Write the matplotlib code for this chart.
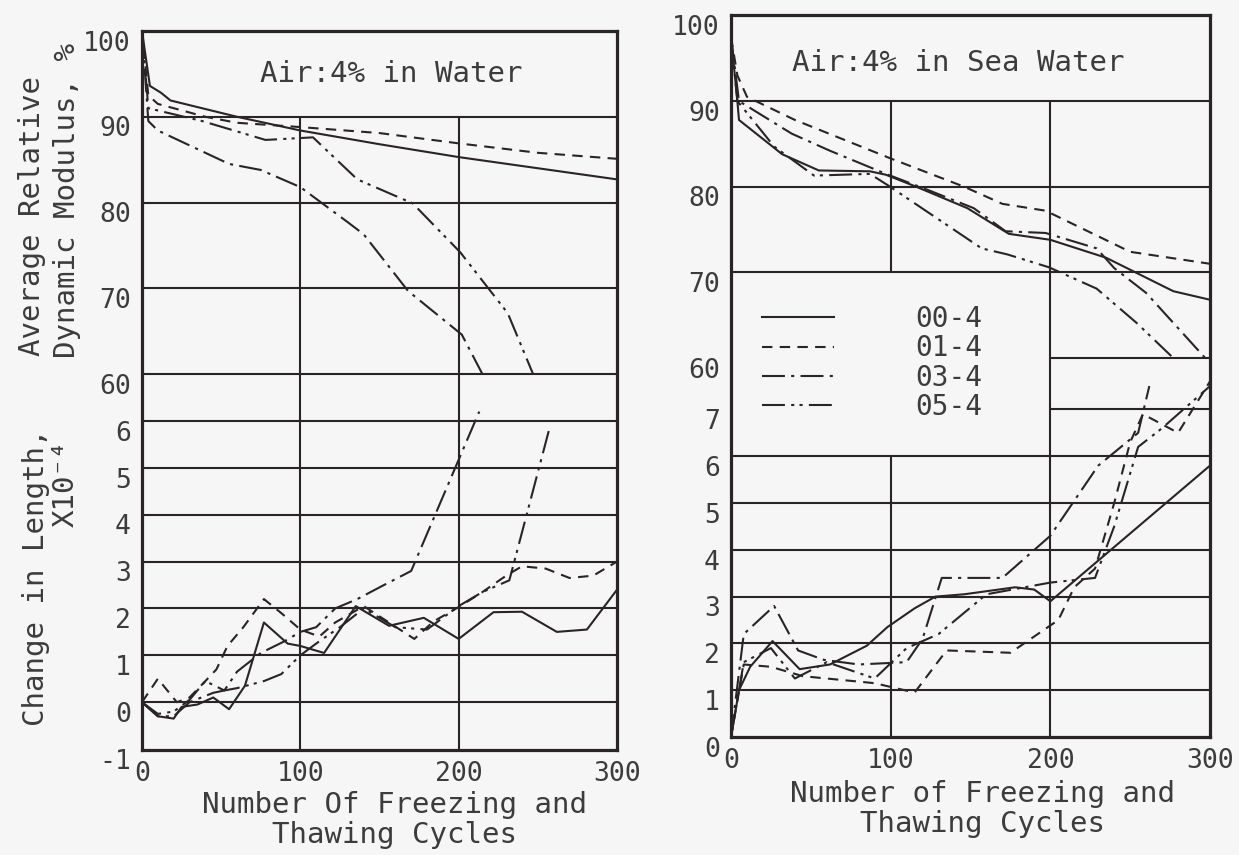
import numpy as np
import matplotlib.pyplot as plt
from matplotlib.transforms import ScaledTranslation

W, H = 1239, 855
FONT = 'DejaVu Sans Mono'
INK = '#2a2327'
TXT = '#3c3c3c'
BG = '#f6f6f6'

series = ['00-4', '01-4', '03-4', '05-4']

# ---- Air 4% in water : relative dynamic modulus (%)
w_mod_cyc = {
    '00-4': [0, 5, 12, 18, 60, 100, 150, 200, 250, 300],
    '01-4': [0, 4, 10, 40, 60, 100, 150, 200, 250, 300],
    '03-4': [0, 4, 10, 55, 75, 100, 130, 140, 168, 202, 215],
    '05-4': [0, 4, 38, 78, 108, 136, 171, 201, 231, 247],
}
w_mod_val = {
    '00-4': [100, 93.6, 92.8, 91.9, 90.0, 88.4, 86.8, 85.3, 84.0, 82.7],
    '01-4': [100, 92.5, 91.5, 90.0, 89.3, 88.8, 88.1, 86.9, 85.8, 85.1],
    '03-4': [100, 89.5, 88.4, 84.5, 83.8, 81.8, 77.7, 76.3, 69.7, 64.6, 60.0],
    '05-4': [100, 91.0, 89.5, 87.3, 87.6, 82.7, 79.9, 74.2, 67.1, 60.0],
}
# ---- Air 4% in water : change in length (x10^-4)
w_len_cyc = {
    '00-4': [0, 10, 20, 25, 35, 45, 55, 65, 77, 92, 100, 115, 135, 156, 178,
             200, 222, 240, 262, 281, 300],
    '01-4': [0, 10, 22, 30, 40, 47, 54, 64, 77, 88, 100, 112, 122, 140, 156,
             172, 184, 201, 215, 230, 240, 255, 270, 285, 300],
    '03-4': [0, 10, 20, 30, 45, 52, 60, 75, 90, 100, 110, 122, 136, 150, 170, 213],
    '05-4': [0, 10, 20, 30, 40, 52, 60, 77, 88, 100, 112, 125, 140, 160, 180,
             200, 215, 232, 257],
}
w_len_val = {
    '00-4': [0, -0.3, -0.35, -0.1, -0.05, 0.1, -0.15, 0.35, 1.7, 1.25, 1.2, 1.05,
             2.05, 1.63, 1.8, 1.35, 1.92, 1.93, 1.5, 1.55, 2.4],
    '01-4': [0, 0.5, 0.0, 0.1, 0.45, 0.7, 1.2, 1.6, 2.2, 1.9, 1.55, 1.4, 1.7, 2.05,
             1.7, 1.35, 1.72, 2.05, 2.35, 2.7, 2.9, 2.85, 2.65, 2.7, 3.0],
    '03-4': [0, -0.3, -0.3, 0.0, 0.2, 0.25, 0.65, 1.05, 1.3, 1.5, 1.6, 2.0, 2.2,
             2.45, 2.8, 6.2],
    '05-4': [0, -0.25, -0.2, 0.05, 0.45, 0.25, 0.3, 0.45, 0.6, 1.0, 1.3, 1.6, 2.0,
             1.6, 1.55, 2.05, 2.35, 2.6, 5.8],
}

# ---- Air 4% in sea water : relative dynamic modulus (%)
s_mod_cyc = {
    '00-4': [0, 4, 5, 32, 55, 87, 97, 116, 148, 174, 200, 235, 277, 300],
    '01-4': [0, 4, 10, 40, 100, 146, 170, 197, 250, 300],
    '03-4': [0, 5, 38, 62, 97, 125, 152, 172, 197, 229, 240, 260, 297],
    '05-4': [0, 4, 27, 52, 87, 98, 157, 173, 199, 229, 254, 277],
}
s_mod_val = {
    '00-4': [97.5, 90, 87.8, 83.8, 81.9, 81.8, 81.4, 80.0, 77.5, 74.5, 73.8, 71.7,
             67.8, 66.8],
    '01-4': [97.5, 93, 90.5, 87.8, 83.3, 80.0, 78.0, 77.2, 72.4, 71.0],
    '03-4': [97.5, 90, 86.2, 84.2, 81.5, 79.5, 77.5, 74.8, 74.6, 72.8, 70.5, 67.6, 60],
    '05-4': [97.5, 90, 84.7, 81.3, 81.5, 80.2, 72.8, 72.1, 70.6, 68.1, 64.1, 60],
}
# ---- Air 4% in sea water : change in length (x10^-4)
s_len_cyc = {
    '00-4': [0, 5, 12, 26, 43, 62, 85, 98, 115, 128, 146, 178, 190, 200, 300],
    '01-4': [0, 8, 25, 45, 90, 115, 135, 175, 205, 215, 228, 240, 250, 258, 280, 300],
    '03-4': [0, 8, 27, 42, 58, 80, 110, 120, 132, 170, 200, 230, 255, 262],
    '05-4': [0, 8, 25, 40, 60, 90, 110, 130, 160, 200, 228, 240, 255, 270, 300],
}
s_len_val = {
    '00-4': [0, 1.0, 1.5, 2.05, 1.45, 1.55, 1.95, 2.35, 2.75, 3.0, 3.05, 3.2, 3.15,
             2.9, 5.8],
    '01-4': [0, 1.55, 1.5, 1.3, 1.15, 0.95, 1.85, 1.8, 2.5, 3.2, 3.6, 5.0, 6.3, 6.9,
             6.5, 7.6],
    '03-4': [0, 2.2, 2.8, 1.85, 1.65, 1.55, 1.6, 2.1, 3.4, 3.4, 4.3, 5.8, 6.5, 7.5],
    '05-4': [0, 1.6, 1.9, 1.25, 1.6, 1.25, 1.9, 2.2, 3.05, 3.3, 3.4, 4.5, 6.2, 6.6,
             7.5],
}

mod_ticks = [100, 90, 80, 70, 60]
w_len_ticks = [6, 5, 4, 3, 2, 1, 0, -1]
s_len_ticks = [7, 6, 5, 4, 3, 2, 1, 0]

styles = {
    '00-4': '-',
    '01-4': (0, (5, 3.5)),
    '03-4': (0, (11, 3, 1.5, 3)),
    '05-4': (0, (11, 3, 1.5, 2.5, 1.5, 3)),
}
K = 0.183  # axis units per 1 % of modulus


def mod_pos(m, base):
    return base + (np.asarray(m, dtype=float) - 60) * K


fig = plt.figure(figsize=(W / 100, H / 100), dpi=100)
fig.patch.set_facecolor(BG)


def px(x, y):
    return x / W, 1 - y / H


def make_panel(rect, base, ylim, len_ticks, mod_cyc, mod_val, len_cyc, len_val):
    ax = fig.add_axes(rect)
    ax.set_facecolor(BG)
    ax.set_xlim(0, 300)
    ax.set_ylim(*ylim)
    for s in ax.spines.values():
        s.set_linewidth(2.3)
        s.set_color(INK)
    ax.set_xticks([0, 100, 200, 300])
    ax.set_xticklabels(['0', '100', '200', '300'])
    ypos = list(mod_pos(mod_ticks, base)) + list(len_ticks)
    ylab = [str(v) for v in mod_ticks] + [str(v) for v in len_ticks]
    ax.set_yticks(ypos)
    ax.set_yticklabels(ylab)
    ax.tick_params(length=0, labelsize=19, labelcolor=TXT, pad=8)
    for t in ax.get_xticklabels() + ax.get_yticklabels():
        t.set_fontfamily(FONT)
    off = ScaledTranslation(0, -7 / 72, fig.dpi_scale_trans)
    for t in ax.yaxis.get_major_ticks():
        t.label1.set_transform(t.label1.get_transform() + off)
    handles = []
    for s in series:
        ax.plot(mod_cyc[s], mod_pos(mod_val[s], base), color=INK, lw=1.5,
                ls=styles[s])
        h, = ax.plot(len_cyc[s], len_val[s], color=INK, lw=1.5, ls=styles[s])
        handles.append(h)
    return ax, handles


# left panel: air 4 % in water
axL, _ = make_panel([142 / W, 1 - 750 / H, 475 / W, 719 / H], 7.0, (-1.02, 14.3),
                    w_len_ticks, w_mod_cyc, w_mod_val, w_len_cyc, w_len_val)
gk = dict(color=INK, lw=1.5)
for m in mod_ticks[1:]:
    axL.axhline(mod_pos(m, 7.0), **gk)
for v in w_len_ticks[:-1]:
    axL.axhline(v, **gk)
for xv in (100, 200):
    axL.vlines(xv, -1.02, mod_pos(90, 7.0), **gk)

# right panel: air 4 % in sea water
axR, hR = make_panel([731 / W, 1 - 737 / H, 479 / W, 722 / H], 8.1, (0, 15.43),
                     s_len_ticks, s_mod_cyc, s_mod_val, s_len_cyc, s_len_val)
for m in (90, 80, 70):
    axR.axhline(mod_pos(m, 8.1), **gk)
axR.hlines([mod_pos(60, 8.1), 7], 200, 300, **gk)
for v in s_len_ticks[1:-1]:
    axR.axhline(v, **gk)
axR.vlines(100, mod_pos(70, 8.1), mod_pos(90, 8.1), **gk)
axR.vlines(100, 0, 6, **gk)
axR.vlines(200, 0, mod_pos(90, 8.1), **gk)

leg = axR.legend(hR, series, loc='upper left', bbox_to_anchor=px(762, 305),
                 bbox_transform=fig.transFigure, frameon=False, borderpad=0,
                 borderaxespad=0, handlelength=2.6, handletextpad=2.9,
                 labelspacing=0.05, prop={'family': FONT, 'size': 20})
for t in leg.get_texts():
    t.set_color(TXT)

tk = dict(family=FONT, color=TXT, ha='center', va='center')
fig.text(*px(391, 74), 'Air:4% in Water', fontsize=21, **tk)
fig.text(*px(958, 63), 'Air:4% in Sea Water', fontsize=21, **tk)
fig.text(*px(32, 216), 'Average Relative', fontsize=21, rotation=90, **tk)
fig.text(*px(67, 200), 'Dynamic Modulus, %', fontsize=21, rotation=90, **tk)
fig.text(*px(36, 577), 'Change in Length,', fontsize=21, rotation=90, **tk)
fig.text(*px(66, 483), 'X10⁻⁴', fontsize=21, rotation=90, **tk)
fig.text(*px(395, 820), 'Number Of Freezing and\nThawing Cycles', fontsize=21,
         linespacing=1.05, **tk)
fig.text(*px(983, 809), 'Number of Freezing and\nThawing Cycles', fontsize=21,
         linespacing=1.05, **tk)

fig.savefig('out.png', dpi=100, facecolor=BG)
